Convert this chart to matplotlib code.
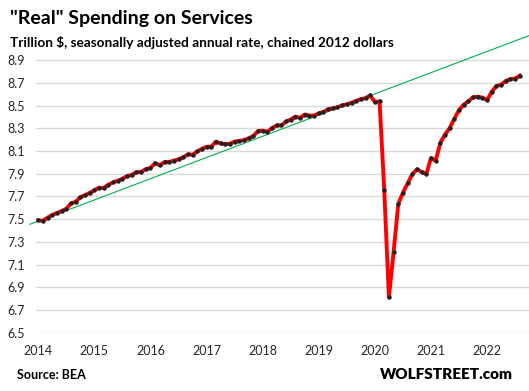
import numpy as np
import matplotlib
matplotlib.use("Agg")
import matplotlib.pyplot as plt

# monthly values, trillion $ (chained 2012), first point sits on the 2014 tick
spending = [
    7.491, 7.486, 7.514, 7.538, 7.555, 7.572, 7.593, 7.639, 7.654, 7.694,
    7.712, 7.732, 7.755, 7.778, 7.775, 7.804, 7.825, 7.839, 7.857, 7.880,
    7.891, 7.914, 7.917, 7.941, 7.952, 7.993, 7.975, 8.004, 8.004, 8.016,
    8.028, 8.045, 8.071, 8.068, 8.097, 8.120, 8.138, 8.138, 8.184, 8.167,
    8.161, 8.164, 8.184, 8.190, 8.196, 8.213, 8.233, 8.277, 8.280, 8.271,
    8.303, 8.326, 8.326, 8.361, 8.378, 8.404, 8.393, 8.422, 8.413, 8.413,
    8.433, 8.445, 8.468, 8.477, 8.486, 8.503, 8.512, 8.526, 8.543, 8.558,
    8.567, 8.590, 8.532, 8.538, 7.757, 6.812, 7.211, 7.634, 7.734, 7.816,
    7.895, 7.940, 7.916, 7.898, 8.039, 8.015, 8.174, 8.245, 8.303, 8.386,
    8.462, 8.509, 8.539, 8.574, 8.579, 8.571, 8.550, 8.623, 8.674, 8.685,
    8.718, 8.735, 8.738, 8.765,
]
start_year = 2014
years = [2014, 2015, 2016, 2017, 2018, 2019, 2020, 2021, 2022]
yticks = [6.5, 6.7, 6.9, 7.1, 7.3, 7.5, 7.7, 7.9, 8.1, 8.3, 8.5, 8.7, 8.9]

# pre-pandemic trend line (start / end)
trend_x = [2013.85, 2022.75]
trend_y = [7.455, 9.118]

x = start_year + np.arange(len(spending)) / 12.0

plt.rcParams['font.family'] = ['Lato', 'DejaVu Sans']

fig = plt.figure(figsize=(5.29, 3.91), dpi=100)
ax = fig.add_axes([0.0675, 0.1491, 0.9325, 0.7606])

ax.plot(trend_x, trend_y, color='#00B050', lw=0.8, clip_on=False, zorder=2)
ax.plot(x, spending, color='#FF0000', lw=2.8, zorder=3, solid_joinstyle='round')
ax.plot(x, spending, ls='none', marker='o', ms=2.2, color='#222222', zorder=4)

ax.set_xlim(2013.954, 2022.747)
ax.set_ylim(6.5, 9.12)
ax.set_yticks(yticks)
ax.set_yticklabels(['%.1f' % v for v in yticks])
ax.set_xticks(years)
ax.set_xticklabels([str(y) for y in years])
ax.grid(axis='y', color='#D9D9D9', lw=1)
ax.set_axisbelow(True)
for s in ax.spines.values():
    s.set_visible(False)
ax.tick_params(length=0, labelsize=9, colors='#262626')
ax.tick_params(axis='y', pad=8)
ax.tick_params(axis='x', pad=9)

fig.text(0.019, 0.953, '"Real" Spending on Services', fontsize=14, fontweight='bold',
         va='center', ha='left', color='black')
fig.text(0.019, 0.892, 'Trillion $, seasonally adjusted annual rate, chained 2012 dollars',
         fontsize=9.8, fontweight='bold', va='center', ha='left', color='black')
fig.text(0.032, 0.041, 'Source: BEA', fontsize=9, fontweight='bold', va='center', ha='left')
fig.text(0.970, 0.043, 'WOLFSTREET.com', fontsize=11, fontweight='heavy', va='center', ha='right')

fig.savefig('out.png', dpi=100)
